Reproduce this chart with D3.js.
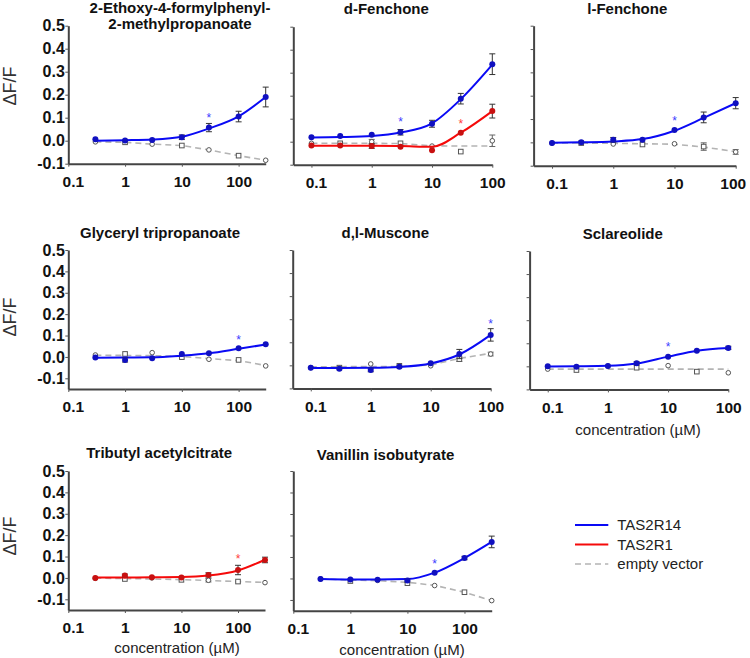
<!DOCTYPE html>
<html><head><meta charset="utf-8">
<script src="https://cdn.jsdelivr.net/npm/d3@7"></script>
<style>body{margin:0;background:#fff}svg{display:block}</style>
</head><body><svg id="c" width="750" height="658"></svg>
<script>
// ---------- DATA ----------
const concA = [0.3, 1, 3, 10, 30, 100, 300];
const concB = [0.1, 0.3, 1, 3, 10, 30, 100];
const xTicks = [0.1, 1, 10, 100];
const xTickLabels = ["0.1", "1", "10", "100"];
const yTicks = [-0.1, 0, 0.1, 0.2, 0.3, 0.4, 0.5];
const titles = [
  ["2-Ethoxy-4-formylphenyl-", "2-methylpropanoate"],
  ["d-Fenchone"], ["l-Fenchone"],
  ["Glyceryl tripropanoate"], ["d,l-Muscone"], ["Sclareolide"],
  ["Tributyl acetylcitrate"], ["Vanillin isobutyrate"]
];
const legendNames = ["TAS2R14", "TAS2R1", "empty vector"];

// Panel 1
const p1_r14 = [0.006, 0.001, 0.003, 0.015, 0.057, 0.105, 0.19];
const p1_r14_err = [0.005, 0.004, 0.004, 0.01, 0.018, 0.023, 0.043];
const p1_r14_fit = [0.0, 0.002, 0.005, 0.017, 0.053, 0.106, 0.19];
const p1_ev = [-0.005, -0.007, -0.015, -0.021, -0.04, -0.065, -0.085];
const p1_ev_err = [0.004, 0.004, 0.005, 0.006, 0.004, 0.005, 0.005];
const p1_ev_fit = [-0.005, -0.007, -0.015, -0.021, -0.04, -0.065, -0.085];
// Panel 2
const p2_r14 = [0.019, 0.025, 0.03, 0.041, 0.078, 0.187, 0.337];
const p2_r14_err = [0.004, 0.005, 0.005, 0.012, 0.015, 0.023, 0.045];
const p2_r14_fit = [0.018, 0.02, 0.025, 0.04, 0.08, 0.185, 0.335];
const p2_r1 = [-0.017, -0.017, -0.019, -0.022, -0.037, 0.039, 0.133];
const p2_r1_err = [0.004, 0.005, 0.01, 0.004, 0.005, 0.005, 0.03];
const p2_r1_fit = [-0.018, -0.018, -0.018, -0.019, -0.022, 0.039, 0.133];
const p2_ev = [-0.007, -0.007, 0.0, -0.007, -0.019, -0.043, 0.004];
const p2_ev_err = [0.004, 0.004, 0.01, 0.005, 0.004, 0.003, 0.025];
const p2_ev_fit = [-0.007, -0.007, -0.007, -0.008, -0.018, -0.019, -0.019];
// Panel 3
const p3_r14 = [-0.003, 0.0, 0.011, 0.011, 0.053, 0.107, 0.168];
const p3_r14_err = [0.003, 0.004, 0.01, 0.006, 0.005, 0.023, 0.024];
const p3_r14_fit = [-0.002, 0.0, 0.004, 0.014, 0.05, 0.105, 0.168];
const p3_ev = [-0.003, -0.003, -0.007, -0.009, -0.006, -0.018, -0.041];
const p3_ev_err = [0.003, 0.004, 0.005, 0.005, 0.004, 0.016, 0.01];
const p3_ev_fit = [-0.003, -0.003, -0.004, -0.006, -0.008, -0.02, -0.04];
// Panel 4
const p4_r14 = [-0.003, -0.014, -0.006, 0.014, 0.017, 0.04, 0.059];
const p4_r14_err = [0.004, 0.01, 0.006, 0.006, 0.004, 0.006, 0.004];
const p4_r14_fit = [-0.004, -0.003, -0.002, 0.006, 0.017, 0.038, 0.058];
const p4_ev = [0.009, 0.014, 0.02, -0.001, -0.011, -0.014, -0.042];
const p4_ev_err = [0.005, 0.004, 0.006, 0.005, 0.004, 0.004, 0.005];
const p4_ev_fit = [0.008, 0.007, 0.006, 0.002, -0.008, -0.017, -0.04];
// Panel 5
const p5_r14 = [-0.01, -0.015, -0.02, -0.006, 0.009, 0.049, 0.132];
const p5_r14_err = [0.004, 0.004, 0.008, 0.004, 0.005, 0.02, 0.027];
const p5_r14_fit = [-0.012, -0.012, -0.011, -0.007, 0.008, 0.047, 0.132];
const p5_ev = [-0.01, -0.01, 0.006, -0.002, -0.002, 0.027, 0.049];
const p5_ev_err = [0.003, 0.003, 0.004, 0.006, 0.004, 0.01, 0.008];
const p5_ev_fit = [-0.006, -0.006, -0.005, -0.005, 0.001, 0.03, 0.052];
// Panel 6
const p6_r14 = [0.0, -0.002, 0.001, 0.013, 0.042, 0.068, 0.08];
const p6_r14_err = [0.004, 0.004, 0.004, 0.007, 0.004, 0.004, 0.007];
const p6_r14_fit = [-0.001, 0.0, 0.002, 0.012, 0.042, 0.068, 0.08];
const p6_ev = [-0.012, -0.016, 0.001, -0.006, 0.003, -0.023, -0.028];
const p6_ev_err = [0.003, 0.003, 0.003, 0.005, 0.006, 0.002, 0.002];
const p6_ev_fit = [-0.012, -0.012, -0.012, -0.012, -0.012, -0.012, -0.012];
// Panel 7
const p7_r1 = [0.0, 0.011, 0.003, 0.002, 0.014, 0.037, 0.084];
const p7_r1_err = [0.003, 0.007, 0.004, 0.004, 0.01, 0.022, 0.013];
const p7_r1_fit = [0.002, 0.002, 0.003, 0.004, 0.011, 0.035, 0.085];
const p7_ev = [-0.002, -0.005, 0.0, -0.009, -0.011, -0.017, -0.022];
const p7_ev_err = [0.003, 0.003, 0.003, 0.004, 0.008, 0.003, 0.003];
const p7_ev_fit = [-0.001, -0.003, -0.005, -0.008, -0.012, -0.017, -0.021];
// Panel 8
const p8_r14 = [-0.002, -0.005, -0.006, -0.009, 0.027, 0.095, 0.17];
const p8_r14_err = [0.003, 0.004, 0.003, 0.008, 0.005, 0.008, 0.027];
const p8_r14_fit = [-0.003, -0.005, -0.005, -0.003, 0.027, 0.095, 0.17];
const p8_ev = [-0.002, -0.012, -0.009, -0.022, -0.033, -0.064, -0.103];
const p8_ev_err = [0.003, 0.003, 0.003, 0.004, 0.003, 0.003, 0.003];
const p8_ev_fit = [-0.002, -0.007, -0.01, -0.018, -0.032, -0.064, -0.103];

// significance stars: panel index, receptor, concentration, value
const starPanel = [0, 1, 1, 2, 3, 4, 5, 6, 7];
const starSeries = ["r14", "r14", "r1", "r14", "r14", "r14", "r14", "r1", "r14"];
const starConc = [30, 3, 30, 10, 100, 100, 10, 100, 30];
const starVal = [0.11, 0.097, 0.09, 0.104, 0.09, 0.19, 0.094, 0.1, 0.08];

// ---------- LAYOUT / STYLE ----------
const FONT = "'Liberation Sans', Arial, Helvetica, sans-serif";
const COL = { r14: "#0a0af5", r1: "#f50a0a", ev: "#b4b4b4" };
const PT = { r14: "#1010c0", r1: "#c81010" };

const layout = [
  { l: 68.3, r: 265.7, t: 25.7, b: 163.7, yd: [-0.1, 0.5], xd: [0.1, 300], lab: true, tx: 180, ty: [13, 29] },
  { l: 293.3, r: 492.3, t: 26.7, b: 164.7, yd: [-0.1, 0.5], xd: [0.05, 100], tx: 386.3, ty: [14] },
  { l: 533.6, r: 735.7, t: 25.7, b: 165.7, yd: [-0.1, 0.5], xd: [0.05, 100], tx: 627.3, ty: [13.5], lastDx: -3 },
  { l: 68.3, r: 265.7, t: 250, b: 389, yd: [-0.15, 0.5], xd: [0.1, 300], lab: true, tx: 160, ty: [238.3] },
  { l: 292.7, r: 490.7, t: 250, b: 388.4, yd: [-0.1, 0.5], xd: [0.05, 100], tx: 385.3, ty: [238.3] },
  { l: 529.6, r: 728.3, t: 251, b: 389.4, yd: [-0.1, 0.5], xd: [0.05, 100], tx: 622.8, ty: [239], xl: [638, 435] },
  { l: 68.3, r: 265, t: 471, b: 610, yd: [-0.15, 0.5], xd: [0.1, 300], lab: true, tx: 159.2, ty: [458.3], xl: [177, 653] },
  { l: 293.3, r: 491.7, t: 471, b: 610.7, yd: [-0.15, 0.5], xd: [0.1, 300], tx: 385.5, ty: [460], xl: [402, 655] }
];

const panelSeries = [
  { conc: concA, s: [["ev", p1_ev, p1_ev_err, p1_ev_fit], ["r14", p1_r14, p1_r14_err, p1_r14_fit]] },
  { conc: concB, s: [["ev", p2_ev, p2_ev_err, p2_ev_fit], ["r1", p2_r1, p2_r1_err, p2_r1_fit], ["r14", p2_r14, p2_r14_err, p2_r14_fit]] },
  { conc: concB, s: [["ev", p3_ev, p3_ev_err, p3_ev_fit], ["r14", p3_r14, p3_r14_err, p3_r14_fit]] },
  { conc: concA, s: [["ev", p4_ev, p4_ev_err, p4_ev_fit], ["r14", p4_r14, p4_r14_err, p4_r14_fit]] },
  { conc: concB, s: [["ev", p5_ev, p5_ev_err, p5_ev_fit], ["r14", p5_r14, p5_r14_err, p5_r14_fit]] },
  { conc: concB, s: [["ev", p6_ev, p6_ev_err, p6_ev_fit], ["r14", p6_r14, p6_r14_err, p6_r14_fit]] },
  { conc: concA, s: [["ev", p7_ev, p7_ev_err, p7_ev_fit], ["r1", p7_r1, p7_r1_err, p7_r1_fit]] },
  { conc: concA, s: [["ev", p8_ev, p8_ev_err, p8_ev_fit], ["r14", p8_r14, p8_r14_err, p8_r14_fit]] }
];

const svg = d3.select("#c");
const scales = [];

layout.forEach((L, i) => {
  const x = d3.scaleLog().domain(L.xd).range([L.l, L.r]);
  const y = d3.scaleLinear().domain(L.yd).range([L.b, L.t]);
  scales.push({ x, y });
  const g = svg.append("g");

  // y axis
  const ya = g.append("g").attr("transform", `translate(${L.l},0)`)
    .call(d3.axisLeft(y).tickValues(yTicks).tickSize(3).tickSizeOuter(0).tickPadding(0.5)
      .tickFormat(L.lab ? (v => v.toFixed(1)) : () => ""));
  ya.select(".domain").attr("stroke", "#444").attr("stroke-width", 2);
  ya.selectAll(".tick line").attr("stroke", "#555").attr("stroke-width", 1);
  ya.selectAll(".tick text").attr("font-family", FONT).attr("font-weight", "bold")
    .attr("font-size", 16).attr("fill", "#111");

  // x axis
  const xa = g.append("g").attr("transform", `translate(0,${L.b})`)
    .call(d3.axisBottom(x).tickValues(xTicks).tickSize(3).tickSizeOuter(0)
      .tickFormat((v, k) => xTickLabels[k]));
  xa.select(".domain").attr("stroke", "#444").attr("stroke-width", 2);
  xa.selectAll(".tick line").attr("stroke", "#555").attr("stroke-width", 1);
  xa.selectAll(".tick text").attr("font-family", FONT).attr("font-weight", "bold")
    .attr("font-size", 15.5).attr("fill", "#111").attr("y", 23.2).attr("dy", 0)
    .attr("dx", (v, k) => k === 0 ? 4.5 : (k === xTicks.length - 1 && L.lastDx ? L.lastDx : 0));

  // title
  const tt = g.append("text").attr("text-anchor", "middle").attr("font-family", FONT)
    .attr("font-weight", "bold").attr("font-size", 15).attr("fill", "#111");
  titles[i].forEach((line, k) => {
    tt.append("tspan").attr("x", L.tx).attr("y", L.ty[k]).text(line);
  });

  if (L.xl) {
    g.append("text").attr("x", L.xl[0]).attr("y", L.xl[1]).attr("text-anchor", "middle")
      .attr("font-family", FONT).attr("font-size", 15).attr("fill", "#222")
      .text("concentration (µM)");
  }

  const P = panelSeries[i];
  const conc = P.conc;
  const order = ["ev", "r1", "r14"];
  P.s.slice().sort((a, b) => order.indexOf(a[0]) - order.indexOf(b[0])).forEach(([key, vals, errs, fit]) => {
    const line = d3.line().x((d, k) => x(conc[k])).y(d => y(d))
      .curve(key === "ev" ? d3.curveLinear : d3.curveMonotoneX);
    g.append("path").datum(fit).attr("d", line).attr("fill", "none")
      .attr("stroke", COL[key]).attr("stroke-width", key === "ev" ? 1.6 : 2)
      .attr("stroke-dasharray", key === "ev" ? "6,4" : null);
    // error bars
    vals.forEach((v, k) => {
      const cx = x(conc[k]);
      const y1 = y(v + errs[k]), y2 = y(v - errs[k]);
      const eg = g.append("g").attr("stroke", key === "ev" ? "#666" : "#333").attr("stroke-width", 1);
      eg.append("line").attr("x1", cx).attr("x2", cx).attr("y1", y1).attr("y2", y2);
      if (errs[k] > 0.006) {
        eg.append("line").attr("x1", cx - 3).attr("x2", cx + 3).attr("y1", y1).attr("y2", y1);
        eg.append("line").attr("x1", cx - 3).attr("x2", cx + 3).attr("y1", y2).attr("y2", y2);
      }
    });
    // markers
    vals.forEach((v, k) => {
      const cx = x(conc[k]), cy = y(v);
      if (key === "ev") {
        if (k % 2 === 0) {
          g.append("circle").attr("cx", cx).attr("cy", cy).attr("r", 2.3)
            .attr("fill", "#fff").attr("stroke", "#555").attr("stroke-width", 1);
        } else {
          g.append("rect").attr("x", cx - 2.3).attr("y", cy - 2.3).attr("width", 4.6).attr("height", 4.6)
            .attr("fill", "#fff").attr("stroke", "#555").attr("stroke-width", 1);
        }
      } else {
        g.append("circle").attr("cx", cx).attr("cy", cy).attr("r", 3).attr("fill", PT[key]);
      }
    });
  });
});

// stars
starPanel.forEach((pi, k) => {
  const s = scales[pi];
  svg.append("text").attr("x", s.x(starConc[k])).attr("y", s.y(starVal[k]) + 6.8)
    .attr("text-anchor", "middle").attr("font-family", FONT).attr("font-size", 12)
    .attr("fill", starSeries[k] === "r14" ? "#3c3cff" : "#ff3c3c").text("*");
});

// y axis titles
[86, 317, 536].forEach(cy => {
  svg.append("text").attr("transform", `translate(16,${cy}) rotate(-90)`)
    .attr("text-anchor", "middle").attr("font-family", FONT).attr("font-size", 18)
    .attr("fill", "#333").text("ΔF/F");
});

// legend
const legY = [525, 544.5, 564];
const legKeys = ["r14", "r1", "ev"];
legendNames.forEach((name, k) => {
  svg.append("line").attr("x1", 575).attr("x2", 608.3).attr("y1", legY[k]).attr("y2", legY[k])
    .attr("stroke", COL[legKeys[k]]).attr("stroke-width", legKeys[k] === "ev" ? 1.6 : 2)
    .attr("stroke-dasharray", legKeys[k] === "ev" ? "6,4" : null);
  svg.append("text").attr("x", 617.3).attr("y", legY[k] + 5.3).attr("font-family", FONT)
    .attr("font-size", 15).attr("fill", "#222").text(name);
});
</script></body></html>
